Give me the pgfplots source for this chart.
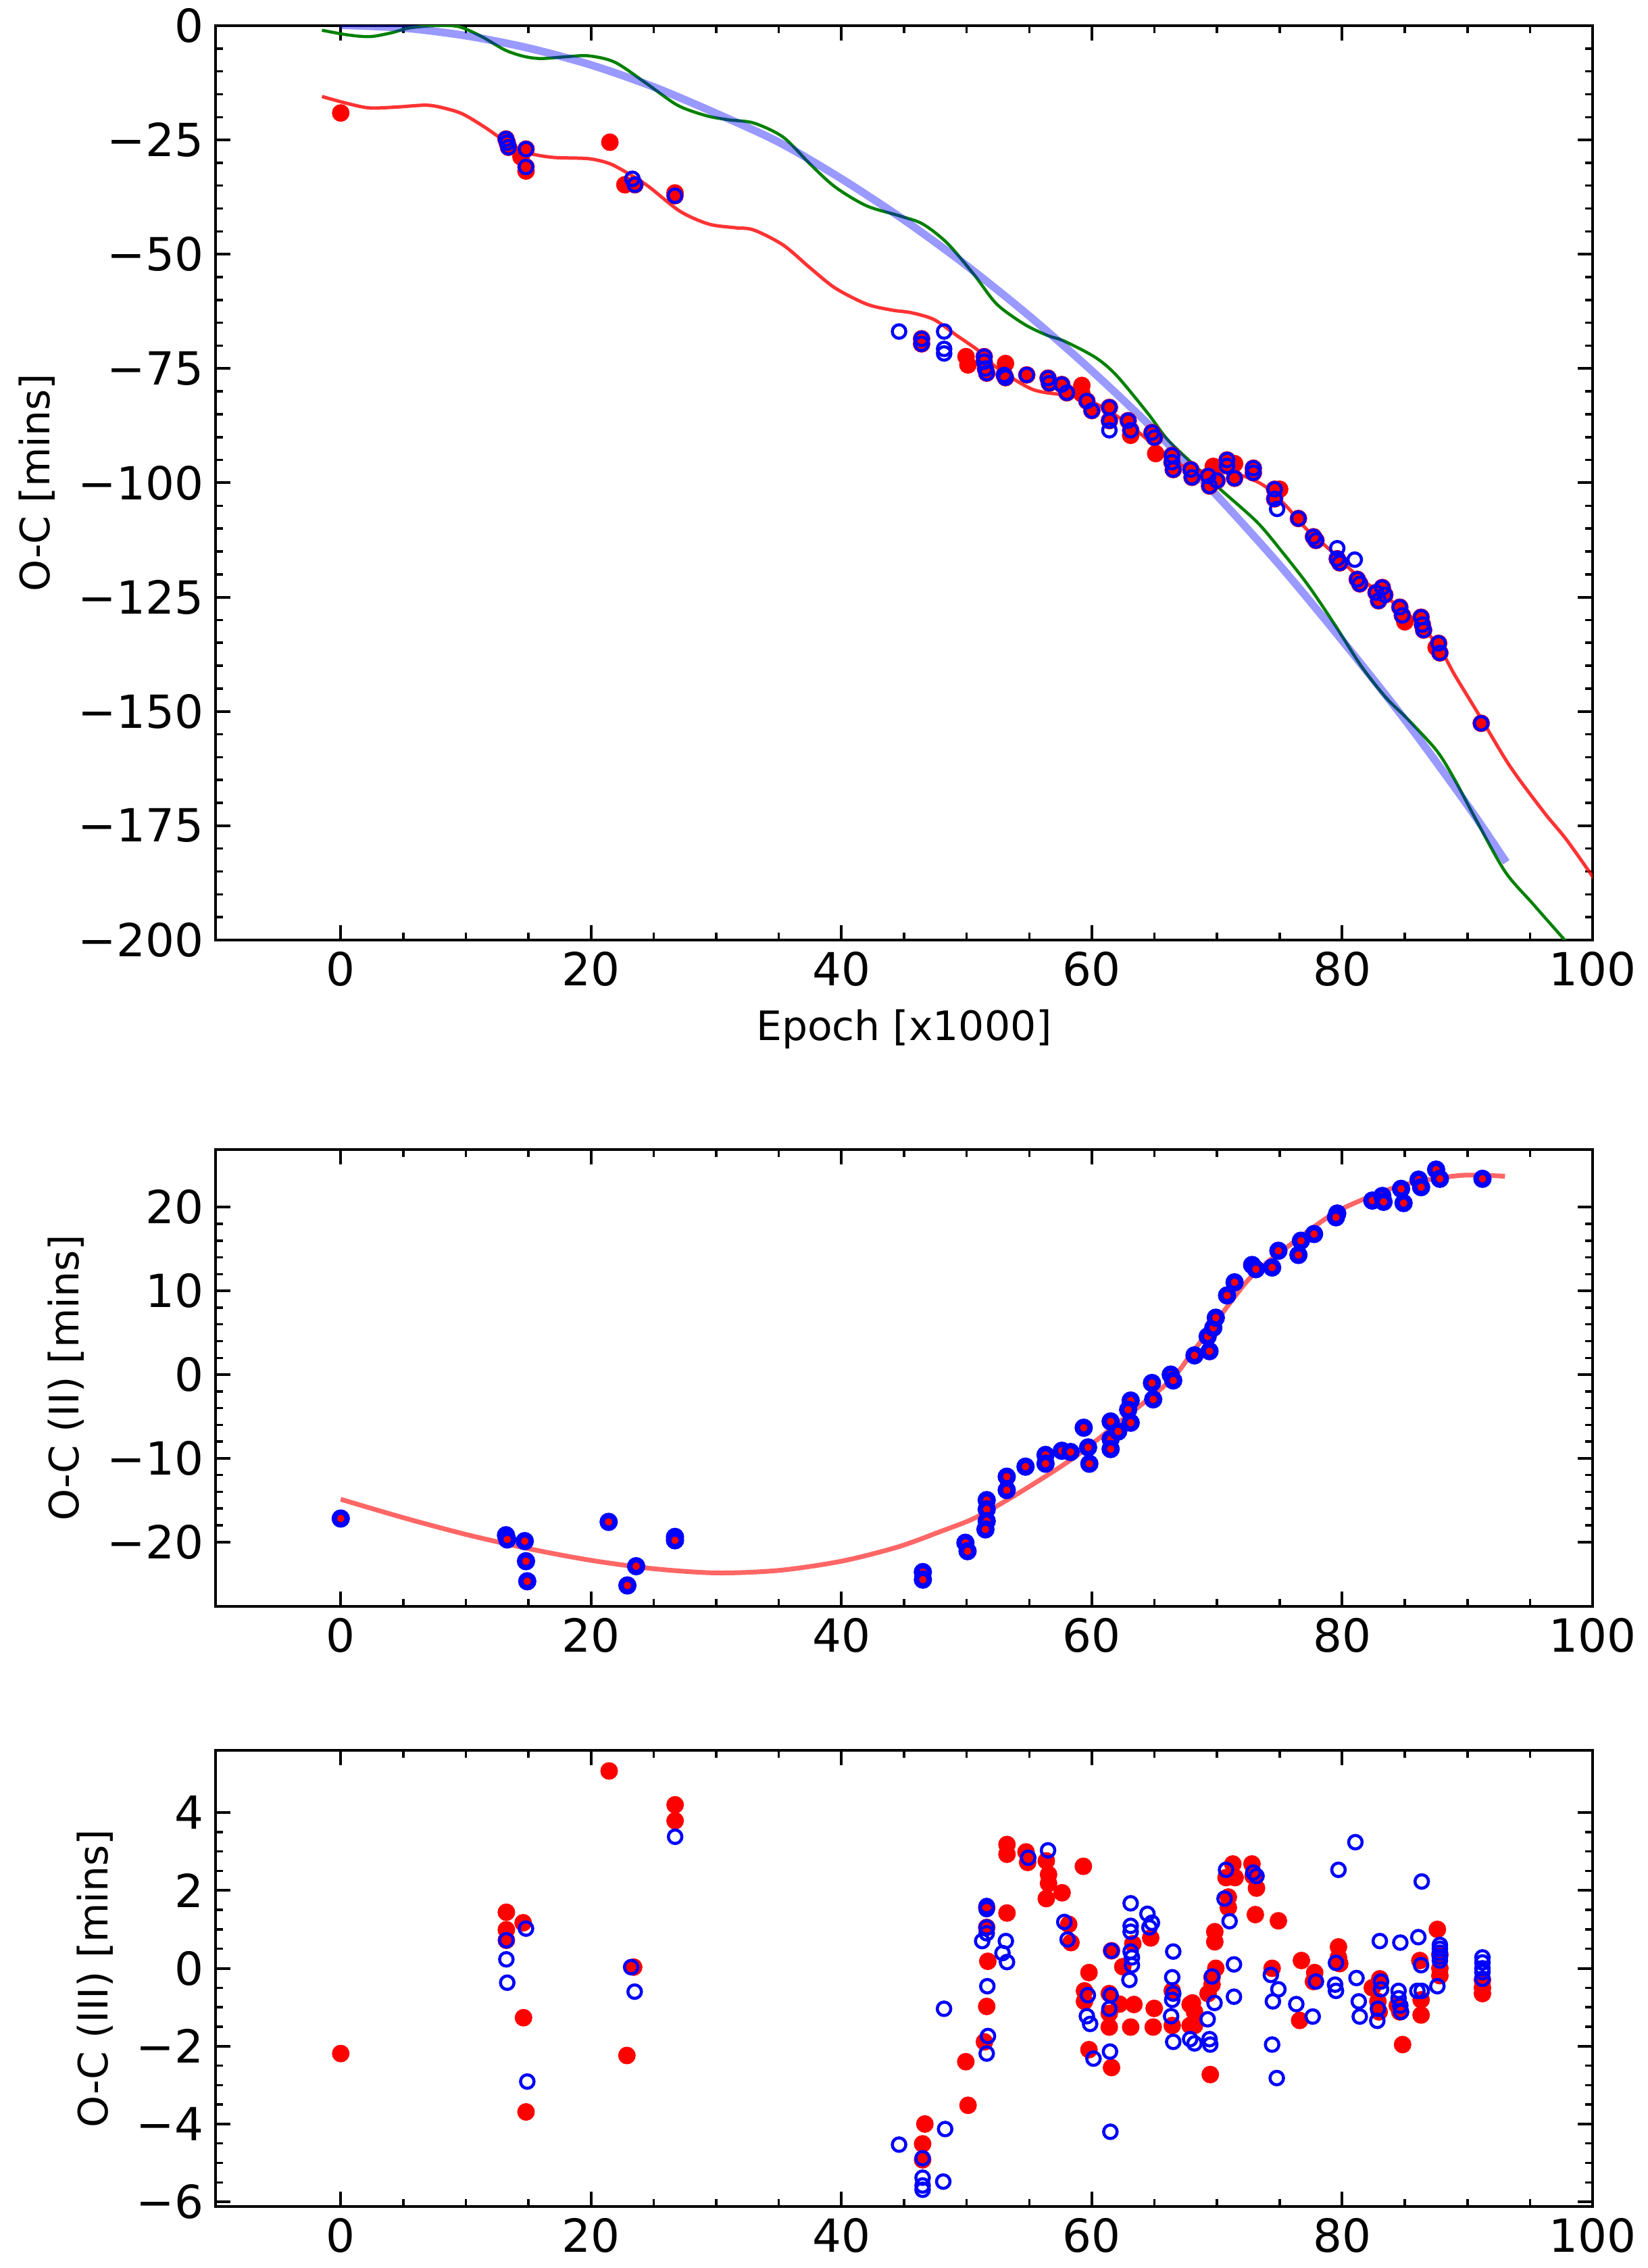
\documentclass[border=0pt]{standalone}
\usepackage{fontspec}
\setmainfont{DejaVu Sans}
\usepackage{pgfplots}
\pgfplotsset{compat=1.18}
\definecolor{mplgreen}{RGB}{0,128,0}
\pgfplotsset{
  myax/.style={
    scale only axis, width=407.6pt, xmin=-10, xmax=100,
    xtick={0,20,40,60,80,100}, xticklabels={0,20,40,60,80,100},
    minor x tick num=3, tick align=inside, tick pos=both,
    major tick length=4.4pt, minor tick length=2.2pt,
    major tick style={black, line width=0.8pt},
    minor tick style={black, line width=0.7pt},
    axis line style={line width=0.8pt},
    tick label style={font=\fontsize{13.5}{16}\selectfont},
    label style={font=\fontsize{12}{14}\selectfont},
    /pgf/number format/assume math mode=true,
    anchor=south west,
  },
  redpts/.style={red, only marks, mark=*, mark size=2.5pt, mark options={fill=red, draw=red, line width=0.2pt}},
  bluering/.style={blue, only marks, mark=o, mark size=2.0pt, mark options={draw=blue, line width=0.9pt}},
}
\begin{document}
\begin{tikzpicture}
\useasboundingbox (0,0) rectangle (487.6pt,671.2pt);
% ---------------- Panel 1 ----------------
\begin{axis}[myax, at={(63.8pt,393pt)}, height=270.6pt,
  ymin=-200, ymax=0, ytick={-200,-175,-150,-125,-100,-75,-50,-25,0},
  yticklabels={−200,−175,−150,−125,−100,−75,−50,−25,0},
  minor y tick num=4,
  xlabel={Epoch [x1000]}, ylabel={O-C [mins]}]
\addplot[redpts] coordinates {
(0,-19.1) (13.2,-24.8) (13.3,-25.6) (13.4,-26.6) (14.4,-28.7) (14.8,-27.0) (14.8,-30.9) (14.8,-31.8)
(21.5,-25.5) (22.7,-34.8) (23.5,-34.8) (26.7,-36.6) (26.7,-37.2)
(46.4,-68.5) (46.4,-69.6) (49.95,-72.4) (50.1,-74.2) (51.4,-72.4) (51.4,-73.5) (51.5,-75.0) (51.6,-76.0)
(53.1,-73.9) (53.0,-76.4) (53.1,-77.0) (54.8,-76.4) (56.5,-77.1) (56.6,-78.2) (57.6,-78.5) (58.0,-80.3)
(59.2,-78.7) (59.2,-80.5) (59.6,-82.1) (60.0,-84.2) (61.4,-83.5) (61.4,-86.4) (62.9,-86.4) (63.1,-88.5)
(63.1,-89.6) (64.8,-89.0) (65.0,-90.1) (65.1,-93.6) (66.4,-94.0) (66.4,-95.5) (66.5,-97.1) (67.9,-97.1)
(68.0,-98.8) (69.3,-98.5) (69.4,-100.7) (69.7,-96.4) (70.0,-99.5) (70.8,-95.0) (70.8,-96.3) (71.4,-95.8)
(71.4,-99.0) (72.9,-96.8) (72.9,-97.8) (74.6,-101.4) (75.0,-101.4) (74.6,-103.5) (76.5,-107.8)
(77.7,-111.8) (77.9,-112.6) (79.6,-116.6) (79.8,-117.5) (81.2,-121.1) (81.4,-122.1) (82.7,-124.0)
(82.9,-125.8) (83.2,-122.9) (83.4,-124.5) (84.6,-127.2) (84.8,-129.0) (85.0,-130.4) (86.3,-129.4)
(86.4,-131.0) (86.5,-132.2) (87.7,-135.1) (87.8,-137.2) (87.5,-136.0) (91.1,-152.6)
};
\addplot[bluering] coordinates {
(13.2,-24.8) (13.3,-25.6) (13.4,-26.6) (14.8,-27.0) (14.8,-30.9) (23.3,-33.5) (23.5,-34.8) (26.7,-37.2)
(44.6,-66.9) (46.4,-68.5) (46.4,-69.6) (48.2,-66.9) (48.2,-70.7) (48.2,-71.7) (51.4,-72.4) (51.4,-73.5)
(51.5,-75.0) (51.6,-76.0) (53.0,-76.4) (53.1,-77.0) (54.8,-76.4) (56.5,-77.1) (56.6,-78.2) (57.6,-78.5)
(58.0,-80.3) (59.6,-82.1) (60.0,-84.2) (61.4,-83.5) (61.4,-86.4) (61.4,-88.5) (62.9,-86.4) (63.1,-88.5)
(64.8,-89.0) (65.0,-90.1) (66.4,-94.0) (66.4,-95.5) (66.5,-97.1) (67.9,-97.1) (68.0,-98.8) (69.3,-98.5)
(69.4,-100.7) (70.0,-99.5) (70.8,-95.0) (70.8,-96.3) (71.4,-99.0) (72.9,-96.8) (72.9,-97.8) (74.6,-101.4)
(74.6,-103.5) (74.8,-105.7) (76.5,-107.8) (77.7,-111.8) (77.9,-112.6) (79.6,-114.3) (79.6,-116.6)
(79.8,-117.5) (81.0,-116.8) (81.2,-121.1) (81.4,-122.1) (82.7,-124.0) (82.9,-125.8) (83.2,-122.9)
(83.4,-124.5) (84.6,-127.2) (84.8,-129.0) (86.3,-129.4) (86.4,-131.0) (86.5,-132.2) (87.7,-135.1)
(87.8,-137.2) (91.1,-152.6)
};
\addplot[mplgreen, line width=0.9pt, smooth] coordinates {
(-1.5,-1.0) (0.5,-2.0) (2.3,-2.4) (4,-1.6) (5.5,-0.5) (7.5,0.0) (9.4,-0.2) (11.2,-2.3) (13.1,-5.3)
(14.6,-6.7) (16.0,-7.2) (18.0,-6.8) (19.8,-6.6) (21.9,-8.0) (24.4,-12.6) (26.9,-17.4) (29.2,-19.7)
(31,-20.6) (33.0,-21.3) (35.35,-24.4) (37.5,-30.3) (39.5,-35.3) (42.0,-39.4) (44.7,-41.65) (46.5,-43.4)
(48.46,-47.6) (50.6,-54.5) (52.4,-60.9) (54.6,-65.3) (56.4,-67.7) (57.8,-69.0) (60.3,-72.6) (62,-76.6)
(64.5,-84.9) (66.1,-90.7) (68.6,-97.2) (70.3,-101.5) (73.2,-108.6) (75.2,-115.1) (77.3,-122.5)
(79.4,-131.0) (81.5,-140.0) (83.5,-147.0) (85.2,-151.6) (87.55,-158.6) (89,-165.0) (90.65,-173.5)
(93.0,-185.0) (95.2,-192.0) (97.9,-200.4)
};
\addplot[blue, opacity=0.4, line width=2.3pt, smooth] coordinates {
(0,0.1) (5,-0.5) (10,-2.2) (15,-4.9) (20,-8.6) (25,-13.4) (30,-19.2) (35,-25.5) (40,-33.5) (45,-42.5)
(50,-52.5) (55,-63.5) (60,-75.5) (65,-88.5) (70,-102.8) (75,-118.0) (80,-134.5) (85,-151.8) (90,-170.5)
(93.1,-183.0)
};
\addplot[red, opacity=0.8, line width=1.0pt, smooth] coordinates {
(-1.5,-15.5) (0.5,-17.0) (2.3,-18.0) (4.5,-17.8) (6.9,-17.4) (8.5,-18.2) (9.8,-19.4) (11.5,-22.2)
(13.1,-25.2) (14.8,-27.7) (16.9,-28.8) (19.8,-29.1) (21.5,-30.2) (23,-32.4) (24.6,-35.2) (27.1,-40.6)
(29.4,-43.4) (31.5,-44.2) (33.0,-44.7) (35.35,-48.0) (37.5,-53.0) (39.5,-57.4) (42.0,-60.9) (44,-62.2)
(45.6,-62.8) (47.4,-64.3) (49.2,-67.75) (51.0,-71.2) (52.4,-74.8) (55.3,-79.6) (58.3,-81.0) (60.4,-82.8)
(62.9,-87.1) (65.8,-93.6) (67.9,-97.1) (70.4,-97.6) (72.1,-98.5) (73.8,-100.7) (75.5,-105.0) (77.1,-110)
(79.2,-115.1) (81.4,-120.8) (83.9,-125.8) (86.4,-131.5) (88.0,-137.2) (89.0,-142.1) (91.0,-151.1)
(93.4,-162.0) (96.1,-172.0) (97.9,-178.0) (100.1,-186.5)
};
\end{axis}
% ---------------- Panel 2 ----------------
\begin{axis}[myax, at={(63.8pt,195.8pt)}, height=135.2pt,
  ymin=-27.7, ymax=26.9, ytick={-20,-10,0,10,20},
  yticklabels={−20,−10,0,10,20}, minor y tick num=4,
  ylabel={O-C (II) [mins]}]
\addplot[blue, only marks, mark=*, mark size=1.9pt, mark options={draw=blue, fill=red, line width=1.6pt}] coordinates {
(0,-17.2) (13.2,-19.2) (13.3,-19.7) (14.7,-19.9) (14.8,-22.3) (14.9,-24.7) (21.4,-17.6) (22.9,-25.2)
(23.6,-22.9) (26.7,-19.4) (26.7,-19.8)
(46.5,-23.6) (46.5,-24.5) (49.9,-20.1) (50.07,-21.1) (51.6,-15.0) (51.6,-16.1) (51.6,-17.5) (51.5,-18.5)
(53.2,-12.2) (53.2,-13.8) (54.7,-11.0) (56.3,-9.6) (56.3,-10.65) (57.6,-9.1) (58.3,-9.25) (59.35,-6.35)
(59.7,-8.7) (59.8,-10.65) (61.5,-5.6) (61.5,-7.7) (61.5,-8.9) (62.1,-6.8) (63.1,-3.1) (63.1,-5.75)
(62.9,-4.2) (64.8,-1.0) (64.9,-2.96) (66.3,0.0) (66.5,-0.7) (68.2,2.3) (69.4,2.8) (69.25,4.56) (69.7,5.6)
(69.9,6.8) (70.8,9.46) (71.4,11.03) (72.8,13.1) (73.1,12.6) (74.4,12.8) (74.9,14.8) (76.5,14.3) (76.7,16.0)
(77.75,16.8) (79.6,19.25) (79.5,18.8) (82.4,20.8) (83.2,21.35) (83.3,20.65) (84.7,22.2) (84.9,20.5)
(86.1,23.3) (86.3,22.4) (87.5,24.5) (87.8,23.4) (91.2,23.4)
};
\addplot[red, opacity=0.6, line width=1.4pt, smooth] coordinates {
(0,-14.9) (5,-17.1) (10,-19.1) (15,-20.8) (20,-22.2) (25,-23.2) (30,-23.7) (35,-23.4) (40,-22.3)
(44.5,-20.6) (48,-18.7) (50.7,-17.1) (54,-14.3) (58.4,-10.1) (62,-5.9) (66.2,-0.8) (68,2.6) (69.9,6.3)
(72.3,11.0) (73.9,13.3) (75.4,15.0) (77.5,17.4) (80.1,19.9) (84.7,22.6) (89.4,23.8) (93,23.7)
};
\end{axis}
% ---------------- Panel 3 ----------------
\begin{axis}[myax, at={(63.8pt,18.2pt)}, height=135pt,
  ymin=-6.12, ymax=5.6, ytick={-6,-4,-2,0,2,4},
  yticklabels={−6,−4,−2,0,2,4}, minor y tick num=3,
  ylabel={O-C (III) [mins]}]
\addplot[redpts] coordinates {
(0,-2.19) (13.23,1.44) (13.23,0.99) (13.23,0.72) (14.57,1.17) (14.6,-1.27) (14.8,-3.69) (21.44,5.07)
(22.86,-2.24) (23.4,0.03) (26.71,4.2) (26.71,3.79)
(53.22,3.18) (53.22,2.93) (54.74,2.99) (54.87,2.72) (56.36,2.76) (56.54,2.41) (56.54,2.18) (56.36,1.79)
(57.62,1.94) (59.32,2.62) (51.6,1.56) (51.6,1.05) (53.22,1.42) (51.69,0.18) (51.6,-0.98) (51.42,-1.89)
(49.93,-2.40) (50.11,-3.52) (46.66,-4.0) (46.48,-4.51) (46.48,-4.92) (58.15,1.13) (58.33,0.66)
(59.77,-0.11) (59.41,-0.58) (59.41,-0.85) (59.77,-2.09) (61.57,0.45) (61.39,-0.65) (61.39,-1.16)
(61.39,-1.51) (61.57,-2.55) (62.2,-0.92) (62.47,0.04) (63.27,0.63) (63.36,-0.93) (63.1,-1.51) (64.7,0.78)
(64.98,-1.03) (64.9,-1.51) (66.42,-0.58) (66.42,-1.47) (67.85,-0.93) (67.85,-1.47)
(71.26,2.68) (71.44,2.33) (70.72,2.33) (70.9,1.83) (70.9,1.56) (72.79,2.68) (72.88,2.37) (73.15,2.06)
(73.06,1.38) (74.9,1.22) (69.82,0.94) (69.82,0.68) (69.9,0.0) (69.6,-0.23) (69.6,-0.42) (69.28,-0.65)
(68.03,-0.89) (68.2,-1.12) (68.2,-1.47) (69.46,-2.73) (74.4,0.0) (76.74,0.20) (77.8,-0.11) (77.7,-0.34)
(76.6,-1.34) (79.7,0.55) (79.7,0.28) (79.8,0.12) (82.4,-0.5) (82.85,-0.85) (82.95,-1.12) (83.0,-0.27)
(84.4,-0.96) (84.6,-1.12) (84.82,-1.96) (86.2,0.2) (86.3,-0.81) (86.3,-1.2) (87.6,1.0) (87.8,0.35)
(87.8,0.0) (87.8,-0.19) (91.2,-0.5) (91.2,-0.65) (91.2,-0.3)
};
\addplot[bluering] coordinates {
(13.23,0.72) (13.23,0.23) (13.3,-0.37) (14.8,1.02) (14.9,-2.91) (23.2,0.03) (23.48,-0.6) (26.71,3.38)
(44.6,-4.53) (48.28,-4.13) (48.19,-1.04) (46.48,-4.88) (46.48,-5.38) (46.48,-5.58) (46.48,-5.69)
(48.13,-5.48) (51.6,1.6) (51.6,1.52) (51.6,1.05) (51.6,0.9) (51.24,0.7) (53.13,0.7) (52.86,0.39)
(53.22,0.16) (51.65,-0.46) (51.7,-1.74) (51.6,-2.19) (54.92,2.84) (56.5,3.03) (57.8,1.19) (58.06,0.74)
(59.68,-0.69) (59.6,-1.23) (59.86,-1.43) (60.13,-2.32) (61.57,0.45) (61.5,-0.69) (61.4,-1.04)
(61.45,-2.14) (61.48,-4.2) (63.1,1.67) (63.1,1.09) (63.1,0.94) (63.1,0.43) (63.2,0.28) (63.2,0.08)
(63.0,-0.30) (64.44,1.40) (64.8,1.17) (64.6,1.05) (66.5,0.43) (66.42,-0.23) (66.5,-0.65) (66.42,-0.81)
(66.33,-1.23) (66.5,-1.89) (67.85,-1.82)
(70.72,2.53) (70.6,1.79) (71.0,1.21) (71.35,0.1) (71.35,-0.73) (69.6,-0.21) (69.8,-0.89) (69.25,-1.31)
(68.2,-1.93) (69.4,-1.82) (69.46,-1.96) (72.9,2.46) (73.15,2.37) (74.3,-0.17) (74.9,-0.54) (74.46,-0.85)
(74.4,-1.96) (74.77,-2.82) (76.33,-0.92) (77.64,-1.24) (77.9,-0.34) (79.7,2.53) (81.05,3.24) (79.5,0.14)
(79.43,-0.42) (79.5,-0.58) (81.14,-0.25) (81.32,-0.85) (81.4,-1.24) (83.0,0.70) (83.1,-0.34)
(83.1,-0.54) (82.85,-1.04) (82.8,-1.35) (84.64,0.66) (84.5,-0.58) (84.5,-0.77) (84.64,-0.96)
(84.7,-1.12) (86.08,0.80) (86.35,2.23) (86.3,0.08) (86.0,-0.58) (86.35,-0.58) (87.6,-0.46) (87.8,0.6)
(87.8,0.5) (87.8,0.4) (87.8,0.3) (87.8,0.2) (91.2,0.28) (91.2,0.15) (91.2,0.0) (91.2,-0.1) (91.2,-0.27)
};
\end{axis}
\end{tikzpicture}
\end{document}
